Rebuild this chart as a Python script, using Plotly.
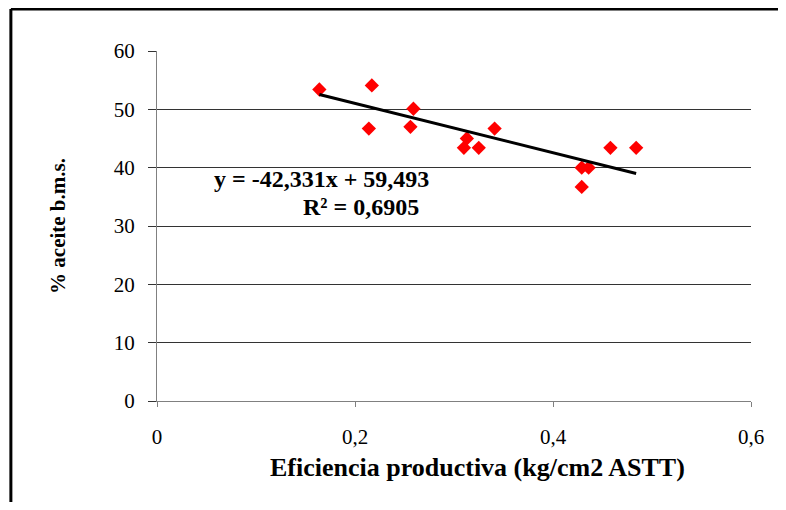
import plotly.graph_objects as go

# Data
eficiencia = [0.164, 0.217, 0.214, 0.259, 0.256, 0.313, 0.310, 0.325, 0.341,
              0.429, 0.436, 0.429, 0.458, 0.484]
aceite = [53.4, 54.1, 46.7, 50.1, 47.0, 45.0, 43.4, 43.4, 46.7,
          40.0, 40.0, 36.7, 43.4, 43.4]

slope = -42.331
intercept = 59.493
r2_text = "R² = 0,6905"
eq_text = "y = -42,331x + 59,493"

x_tickvals = [0, 0.2, 0.4, 0.6]
x_ticktext = ["0", "0,2", "0,4", "0,6"]
y_tickvals = [0, 10, 20, 30, 40, 50, 60]

x_title = "Eficiencia productiva (kg/cm2 ASTT)"
y_title = "% aceite b.m.s."

trend_x = [min(eficiencia), max(eficiencia)]
trend_y = [slope * v + intercept for v in trend_x]

SERIF = "Liberation Serif, Times New Roman, serif"

fig = go.Figure()
fig.add_trace(go.Scatter(
    x=eficiencia, y=aceite, mode="markers",
    marker=dict(symbol="diamond", size=11, color="#ff0000", line=dict(width=0)),
    showlegend=False, hoverinfo="x+y"))
fig.add_trace(go.Scatter(
    x=trend_x, y=trend_y, mode="lines",
    line=dict(color="#000000", width=3),
    showlegend=False, hoverinfo="skip"))

fig.update_layout(
    width=770, height=494,
    margin=dict(l=149, r=27, t=43, b=101),
    paper_bgcolor="white", plot_bgcolor="white",
    separators=",.",
    font=dict(family=SERIF, color="#000000"),
    xaxis=dict(
        range=[0, 0.6], tickvals=x_tickvals, ticktext=x_ticktext,
        showgrid=False, zeroline=False,
        showline=True, linecolor="#808080", linewidth=1,
        ticks="outside", ticklen=5, tickcolor="#808080", tickwidth=1,
        tickfont=dict(family=SERIF, size=21, color="#000000"),
        ticklabelstandoff=12,
    ),
    yaxis=dict(
        range=[0, 60], tickvals=y_tickvals,
        showgrid=True, gridcolor="#333333", gridwidth=1,
        zeroline=False,
        showline=True, linecolor="#808080", linewidth=1,
        ticks="outside", ticklen=8, tickcolor="#333333", tickwidth=1,
        tickfont=dict(family=SERIF, size=21, color="#000000"),
        ticklabelstandoff=9,
        title=dict(text="<b>" + y_title + "</b>",
                   font=dict(family=SERIF, size=21, color="#000000"),
                   standoff=42),
    ),
    shapes=[
        dict(type="line", xref="paper", yref="paper",
             x0=-0.246, x1=2.0, y0=1.12, y1=1.12,
             line=dict(color="#000000", width=3)),
        dict(type="line", xref="paper", yref="paper",
             x0=-0.246, x1=-0.246, y0=-2.0, y1=1.12,
             line=dict(color="#000000", width=3)),
    ],
    annotations=[
        dict(text="<b>" + x_title + "</b>", xref="paper", yref="paper",
             x=0.540, y=-0.1886, xanchor="center", yanchor="middle",
             showarrow=False, font=dict(family=SERIF, size=26, color="#000000")),
        dict(text="<b>" + eq_text + "</b>", xref="paper", yref="paper",
             x=0.277, y=0.634, xanchor="center", yanchor="middle",
             showarrow=False, font=dict(family=SERIF, size=24, color="#000000")),
        dict(text="<b>" + r2_text + "</b>", xref="paper", yref="paper",
             x=0.344, y=0.554, xanchor="center", yanchor="middle",
             showarrow=False, font=dict(family=SERIF, size=24, color="#000000")),
    ],
)

fig.write_html("out.html")
